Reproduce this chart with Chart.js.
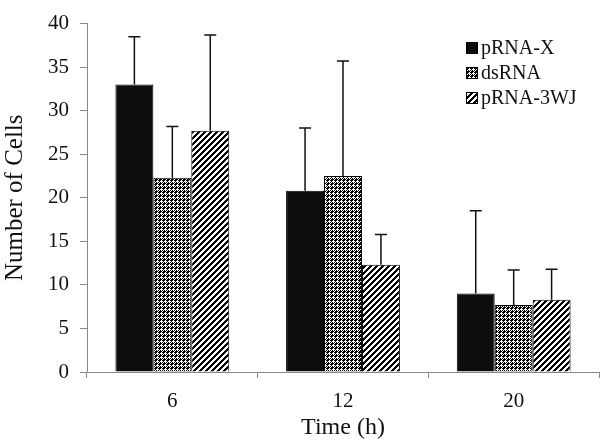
<!DOCTYPE html>
<html><head><meta charset="utf-8">
<script src="https://cdn.jsdelivr.net/npm/chart.js@4"></script>
<style>html,body{margin:0;padding:0;background:#fff}#wrap{width:600px;height:440px}</style>
</head><body><div id="wrap"><canvas id="c" width="600" height="440"></canvas></div>
<script>
const categories = ['6', '12', '20'];
const seriesNames = ['pRNA-X', 'dsRNA', 'pRNA-3WJ'];
const pRNAX = [33.0, 20.8, 9.0];
const dsRNA = [22.3, 22.5, 7.7];
const pRNA3WJ = [27.7, 12.3, 8.3];
const errPRNAX = [5.5, 7.2, 9.5];
const errDsRNA = [5.9, 13.2, 4.0];
const errPRNA3WJ = [11.0, 3.5, 3.5];
const yTicks = [0, 5, 10, 15, 20, 25, 30, 35, 40];

function dotPattern() {
  const c = document.createElement('canvas'); c.width = 4; c.height = 4;
  const g = c.getContext('2d');
  g.fillStyle = '#000'; g.fillRect(0, 0, 4, 4);
  g.fillStyle = '#fff';
  g.fillRect(1, 0, 1, 1); g.fillRect(0, 1, 3, 1); g.fillRect(1, 2, 1, 1);
  g.fillRect(3, 2, 1, 1); g.fillRect(2, 3, 1, 1);
  return g.createPattern(c, 'repeat');
}
function stripePattern() {
  const n = 6;
  const c = document.createElement('canvas'); c.width = n; c.height = n;
  const g = c.getContext('2d');
  g.fillStyle = '#fff'; g.fillRect(0, 0, n, n);
  g.fillStyle = '#000';
  for (let y = 0; y < n; y++) {
    for (let k = 0; k < 3; k++) {
      const x = ((n - 1 - y) + k) % n;
      g.fillRect(x, y, 1, 1);
    }
  }
  return g.createPattern(c, 'repeat');
}
const fills = ['#0d0d0d', dotPattern(), stripePattern()];
const errs = [errPRNAX, errDsRNA, errPRNA3WJ];

const errorBars = {
  id: 'errorBars',
  afterDatasetsDraw(chart) {
    const ctx = chart.ctx, ys = chart.scales.y;
    ctx.save();
    ctx.strokeStyle = '#111'; ctx.lineWidth = 1.5;
    chart.data.datasets.forEach((ds, di) => {
      const meta = chart.getDatasetMeta(di);
      meta.data.forEach((bar, i) => {
        const top = ys.getPixelForValue(ds.data[i] + errs[di][i]);
        ctx.beginPath();
        ctx.moveTo(bar.x, bar.y); ctx.lineTo(bar.x, top);
        ctx.moveTo(bar.x - 6, top); ctx.lineTo(bar.x + 6, top);
        ctx.stroke();
      });
    });
    ctx.restore();
  }
};
const legendPlugin = {
  id: 'customLegend',
  afterDraw(chart) {
    const ctx = chart.ctx;
    ctx.save();
    ctx.font = '20px "Liberation Serif"';
    ctx.textBaseline = 'middle';
    const rows = [48, 73, 98];
    chart.data.datasets.forEach((ds, i) => {
      const y = rows[i];
      ctx.fillStyle = ds.backgroundColor;
      ctx.fillRect(466, y - 6, 12, 12);
      ctx.strokeStyle = '#000'; ctx.lineWidth = 1;
      ctx.strokeRect(466.5, y - 5.5, 11, 11);
      ctx.fillStyle = '#111';
      ctx.fillText(ds.label, 481, y + 1);
    });
    ctx.restore();
  }
};

new Chart(document.getElementById('c'), {
  type: 'bar',
  data: {
    labels: categories,
    datasets: [
      { label: seriesNames[0], data: pRNAX, backgroundColor: fills[0] },
      { label: seriesNames[1], data: dsRNA, backgroundColor: fills[1] },
      { label: seriesNames[2], data: pRNA3WJ, backgroundColor: fills[2] }
    ].map(d => Object.assign(d, { borderColor: '#000', borderWidth: 1, categoryPercentage: 0.667, barPercentage: 1.0 }))
  },
  options: {
    responsive: false,
    animation: false,
    layout: { padding: { top: 9, right: 1, left: 0, bottom: 0 } },
    plugins: { legend: { display: false }, tooltip: { enabled: false } },
    scales: {
      x: {
        grid: { display: true, drawOnChartArea: false, offset: true, color: '#888', tickLength: 6, lineWidth: 1 },
        border: { color: '#888', width: 1 },
        ticks: { color: '#111', font: { family: 'Liberation Serif', size: 21 }, padding: 11 },
        title: { display: true, text: 'Time (h)', color: '#111', font: { family: 'Liberation Serif', size: 24, lineHeight: 1.0 }, padding: { top: 0, bottom: 0 } },
        afterFit(s) { s.height = 68; }
      },
      y: {
        min: 0, max: 40,
        afterBuildTicks(s) { s.ticks = yTicks.map(v => ({ value: v })); },
        grid: { display: true, drawOnChartArea: false, color: '#888', tickLength: 7, lineWidth: 1 },
        border: { color: '#888', width: 1 },
        ticks: { color: '#111', font: { family: 'Liberation Serif', size: 21 }, padding: 11 },
        title: { display: true, text: 'Number of Cells', color: '#111', font: { family: 'Liberation Serif', size: 25 }, padding: { top: 0, bottom: 2 } },
        afterFit(s) { s.width = 87; }
      }
    }
  },
  plugins: [errorBars, legendPlugin]
});
</script></body></html>
